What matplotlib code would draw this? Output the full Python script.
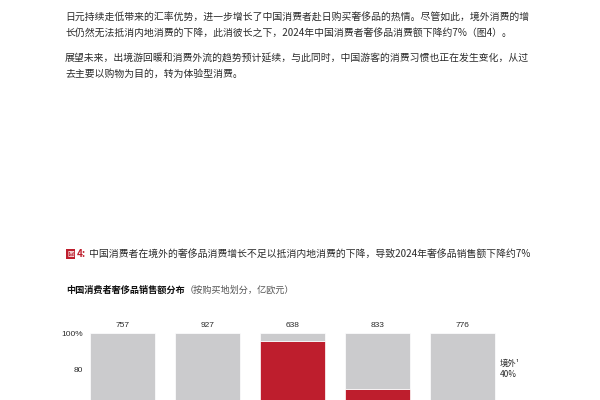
import matplotlib
matplotlib.use('Agg')
import matplotlib.pyplot as plt

plt.rcParams['font.family'] = ['Noto Sans CJK SC', 'DejaVu Sans']

# page text
body_lines = [
    '日元持续走低带来的汇率优势，进一步增长了中国消费者赴日购买奢侈品的热情。尽管如此，境外消费的增',
    '长仍然无法抵消内地消费的下降，此消彼长之下，2024年中国消费者奢侈品消费额下降约7%（图4）。',
    '展望未来，出境游回暖和消费外流的趋势预计延续，与此同时，中国游客的消费习惯也正在发生变化，从过',
    '去主要以购物为目的，转为体验型消费。',
]
body_y = [17, 33, 58, 74]
caption_tag = '图'
caption_num = '4:'
caption_text = '中国消费者在境外的奢侈品消费增长不足以抵消内地消费的下降，导致2024年奢侈品销售额下降约7%'
title_bold = '中国消费者奢侈品销售额分布'
title_note = '（按购买地划分，亿欧元）'

# chart data (bottom of chart is cut off in the reference)
totals = [757, 927, 638, 833, 776]
mainland_pct = [30, 34, 95.5, 69, 60]
overseas_pct = [70, 66, 4.5, 31, 40]
yticks = [80, 100]          # lower ticks fall below the page edge
ytick_labels = ['80', '100%']
seg_label = '境外¹\n40%'

red = '#BE1E2D'
grey = '#CBCBCD'
txt = '#2b2b2b'

fig = plt.figure(figsize=(6, 4), dpi=100)

bg = fig.add_axes([0, 0, 1, 1])
bg.set_xlim(0, 600)
bg.set_ylim(400, 0)
bg.axis('off')

for line, y in zip(body_lines, body_y):
    bg.text(65, y, line, fontsize=7.1, color=txt, va='center', ha='left')

tag = bg.text(67, 254, caption_tag, fontsize=4.8, color='white', va='center', ha='left',
              bbox=dict(boxstyle='square,pad=0.15', fc=red, ec='none'))
num = bg.annotate(caption_num, xy=(1, 0.5), xycoords=tag, xytext=(2.5, 0),
                  textcoords='offset points', fontsize=7.2, color=red,
                  fontweight='bold', va='center', ha='left')
bg.annotate(caption_text, xy=(1, 0.5), xycoords=num, xytext=(2, 0),
            textcoords='offset points', fontsize=7.1, color=txt, va='center', ha='left')

tb = bg.text(66, 290, title_bold, fontsize=6.6, color='#111111', fontweight='bold',
             va='center', ha='left')
bg.annotate(title_note, xy=(1, 0.5), xycoords=tb, xytext=(0, 0),
            textcoords='offset points', fontsize=6.6, color='#555555', va='center', ha='left')

# chart axes extend below the bottom edge of the figure
ax = fig.add_axes([85 / 600, -113 / 400, 475 / 600, 180 / 400])
x = list(range(len(totals)))
w = 65 / 85
ax.bar(x, mainland_pct, width=w, color=red, edgecolor='white', linewidth=0.5)
ax.bar(x, overseas_pct, width=w, bottom=mainland_pct, color=grey, edgecolor='white', linewidth=0.5)

for i, t in enumerate(totals):
    ax.annotate(str(t), xy=(i, 100), xytext=(0, 3), textcoords='offset points',
                ha='center', va='bottom', fontsize=6, color=txt, family='Liberation Sans')

ax.text(4.44, 80, seg_label, fontsize=6, color=txt, va='center', ha='left', linespacing=1.3)

ax.set_xlim((85 - 122.5) / 85, (560 - 122.5) / 85)
ax.set_ylim(0, 100)
ax.set_yticks(yticks)
ax.set_yticklabels(ytick_labels, fontsize=6, color=txt, family='Liberation Sans')
ax.tick_params(axis='y', length=0, pad=1.5)
ax.set_xticks([])
for s in ax.spines.values():
    s.set_visible(False)
ax.patch.set_alpha(0)

fig.savefig('out.png', dpi=100)
